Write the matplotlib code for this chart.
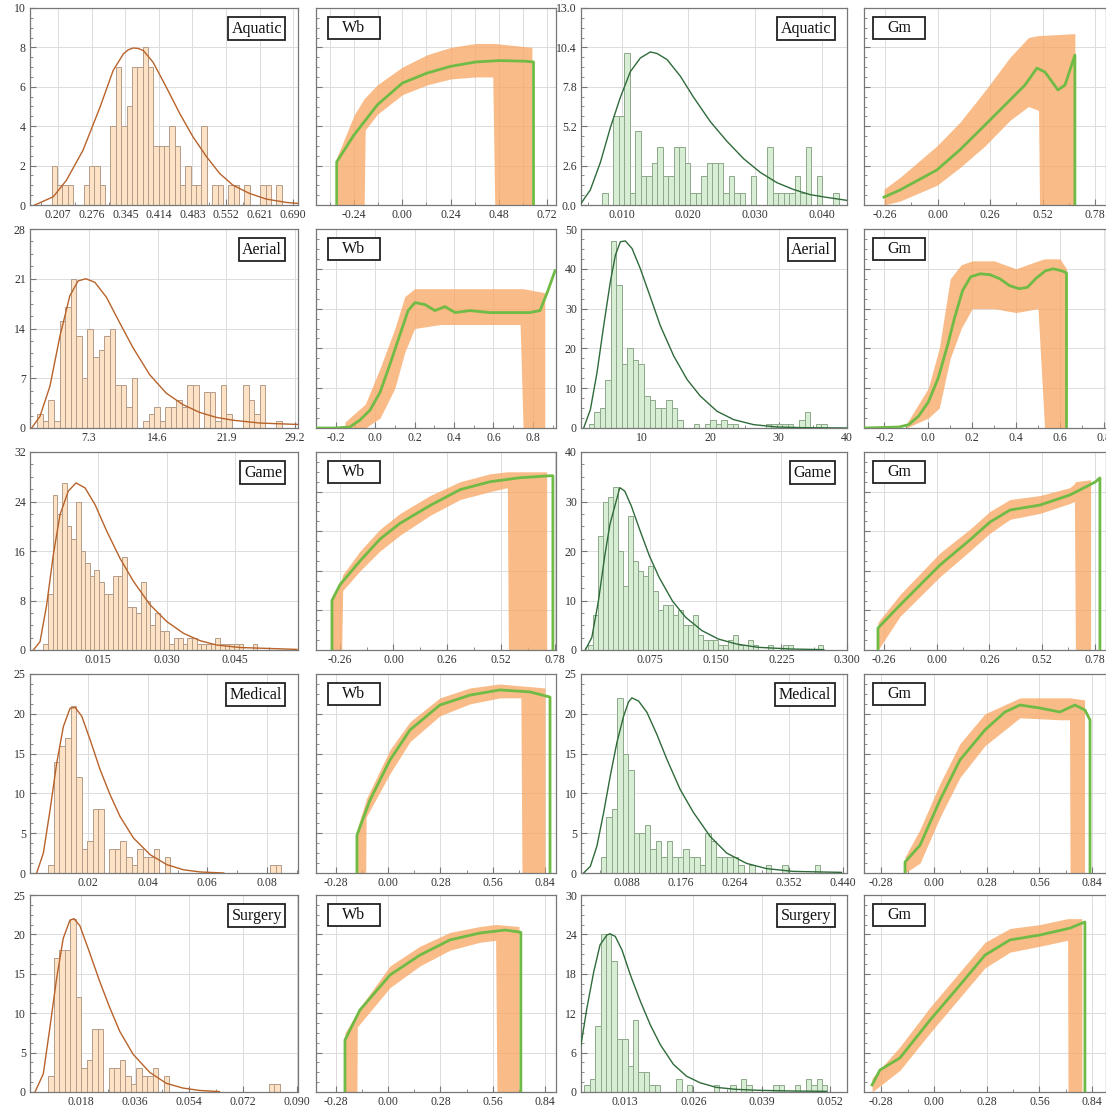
import matplotlib
import numpy as np

matplotlib.use("Agg")
import matplotlib.pyplot as plt
from matplotlib.patches import Rectangle
from matplotlib.ticker import AutoMinorLocator

FIG_PX = 1106
SERIF = ["Liberation Serif", "DejaVu Serif"]

# pixel frames of the 5 x 4 panel grid (left, right) / (top, bottom)
COL_PX = [(30, 298), (316, 556), (581, 847), (864, 1106)]
ROW_PX = [(8, 205), (229, 428), (452, 650), (674, 873), (895, 1092)]
DOMAINS = ["Aquatic", "Aerial", "Game", "Medical", "Surgery"]

# ---------------- column 1: orange histograms + fitted density ----------------
AQ1_START, AQ1_WIDTH = 0.1935, 0.011
AQ1_COUNTS = [2, 1, 1, 1, 0, 0, 1, 2, 2, 1, 0, 4, 7, 4, 5, 7, 7, 8, 7, 3, 3, 3, 4, 3, 1, 2, 1, 1,
              4, 0, 1, 1, 0, 1, 1, 0, 1, 0, 0, 1, 1, 0, 1]
AQ1_FIT_X = [0.159, 0.197, 0.224, 0.258, 0.293, 0.320, 0.341, 0.351, 0.361, 0.371, 0.382, 0.402,
             0.429, 0.457, 0.484, 0.512, 0.539, 0.566, 0.600, 0.635, 0.676, 0.700]
AQ1_FIT_Y = [0.0, 0.42, 1.26, 2.78, 4.97, 6.83, 7.67, 7.88, 7.97, 7.95, 7.84, 7.25, 5.99, 4.64,
             3.46, 2.45, 1.60, 1.01, 0.59, 0.30, 0.13, 0.08]

AE1_START, AE1_WIDTH = 1.84, 0.59
AE1_COUNTS = [2, 1, 4, 1, 15, 17, 21, 13, 7, 14, 10, 11, 13, 14, 6, 6, 3, 7, 0, 1, 2, 3, 1, 3, 3, 4,
              3, 6, 6, 0, 5, 5, 1, 6, 2, 0, 0, 6, 4, 2, 6, 0, 0, 1]
AE1_FIT_X = [1.24, 2.12, 3.18, 4.23, 5.29, 6.17, 6.99, 7.94, 9.17, 10.58, 11.99, 13.76, 15.52,
             17.28, 19.05, 20.81, 22.57, 25.40, 29.45]
AE1_FIT_Y = [0.0, 1.65, 5.9, 12.9, 18.6, 20.7, 21.0, 20.5, 18.4, 14.8, 11.3, 7.5, 4.9, 3.3, 2.2,
             1.5, 1.1, 0.7, 0.5]

GA1_START, GA1_WIDTH = 0.00293, 0.00102
GA1_COUNTS = [1, 9, 25, 22, 27, 20, 18, 24, 16, 14, 12, 13, 11, 9, 9, 12, 12, 15, 7, 7, 6, 11, 8, 4,
              6, 3, 3, 1, 2, 2, 1, 2, 2, 1, 1, 1, 1, 2, 1, 1, 1, 1, 1, 0, 0, 1]
GA1_FIT_X = [0.00073, 0.0022, 0.00366, 0.00512, 0.00659, 0.00842, 0.0101, 0.01208, 0.01427,
             0.01684, 0.01976, 0.02269, 0.02635, 0.03001, 0.03367, 0.03733, 0.04099, 0.04612, 0.05856]
GA1_FIT_Y = [0.0, 1.35, 7.3, 15.4, 21.9, 25.7, 27.0, 26.2, 23.5, 19.2, 14.8, 11.1, 7.3, 4.6, 2.7,
             1.5, 0.8, 0.4, 0.1]

ME1_START, ME1_WIDTH = 0.00666, 0.00186
ME1_COUNTS = [1, 14, 16, 17, 21, 12, 3, 4, 8, 8, 0, 3, 3, 4, 2, 1, 3, 2, 2, 3, 0, 2, 0, 0, 0, 0, 0,
              0, 0, 0, 0, 0, 0, 0, 0, 0, 0, 0, 0, 0, 1, 1]
ME1_FIT_X = [0.00274, 0.00498, 0.00722, 0.00946, 0.0117, 0.01394, 0.01562, 0.01786, 0.0207, 0.0240,
             0.0274, 0.0307, 0.0352, 0.0408, 0.0464, 0.0520, 0.0576, 0.0655]
ME1_FIT_Y = [0.0, 2.5, 7.9, 13.8, 18.4, 20.7, 20.8, 19.7, 16.7, 13.0, 9.8, 7.1, 4.4, 2.3, 1.05, 0.4,
             0.13, 0.0]

SU1_START, SU1_WIDTH = 0.0071, 0.00184
SU1_COUNTS = [2, 17, 18, 18, 22, 12, 3, 4, 8, 8, 0, 3, 3, 4, 2, 1, 3, 2, 2, 3, 0, 2, 0, 0, 0, 0, 0,
              0, 0, 0, 0, 0, 0, 0, 0, 0, 0, 0, 0, 0, 1, 1]
SU1_FIT_X = [0.00267, 0.00544, 0.00766, 0.00988, 0.0121, 0.01432, 0.01565, 0.01765, 0.02043,
             0.02431, 0.02764, 0.03097, 0.03541, 0.04096, 0.04651, 0.05206, 0.05761, 0.06427]
SU1_FIT_Y = [0.0, 2.3, 8.2, 14.4, 19.5, 21.8, 22.0, 21.1, 18.2, 14.0, 10.7, 7.7, 4.8, 2.5, 1.1, 0.5,
             0.2, 0.05]

# ---------------- column 3: green histograms + fitted density ----------------
AQ3_START, AQ3_WIDTH = 0.00705, 0.000825
AQ3_COUNTS = [0.8, 0, 5.9, 5.9, 10.0, 0.8, 4.9, 1.9, 1.9, 2.8, 3.8, 1.9, 1.9, 3.8, 3.8, 2.8, 0.8,
              0.8, 1.9, 2.8, 2.8, 2.8, 0.8, 1.9, 0.8, 0.8, 0, 1.9, 0, 0, 3.8, 0.8, 0.8, 0.8, 0.8,
              1.9, 0.8, 3.8, 0, 1.9, 0, 0, 0.8]
AQ3_FIT_X = [0.0039, 0.0053, 0.0068, 0.0083, 0.0098, 0.0113, 0.0128, 0.0143, 0.0153, 0.0168,
             0.0188, 0.0208, 0.0233, 0.0258, 0.0283, 0.0308, 0.0333, 0.0358, 0.0383, 0.0408, 0.0439]
AQ3_FIT_Y = [0.1, 1.0, 2.8, 5.1, 7.1, 8.8, 9.7, 10.1, 10.0, 9.6, 8.5, 7.1, 5.5, 4.2, 3.05, 2.15,
             1.47, 1.02, 0.68, 0.5, 0.3]

AE3_START, AE3_WIDTH = 2.19, 0.81
AE3_COUNTS = [1, 4, 5, 12, 47, 36, 16, 20, 17, 16, 8, 7, 5, 5, 7, 5, 2, 0, 0, 1, 0, 1, 2, 1, 2, 1,
              1, 0, 0, 0, 0, 0, 1, 1, 1, 1, 1, 0, 2, 4, 0, 1, 1]
AE3_FIT_X = [1.46, 2.44, 3.41, 4.39, 5.36, 6.10, 6.83, 7.56, 8.54, 9.76, 11.22, 12.68, 14.64, 16.59,
             18.54, 20.98, 23.42, 26.35, 29.77, 33.67, 40.0]
AE3_FIT_Y = [0.0, 4.6, 13.9, 25.7, 36.7, 43.4, 46.8, 47.0, 45.1, 40.0, 32.9, 25.7, 18.1, 12.2, 8.0,
             4.2, 2.1, 0.84, 0.25, 0.08, 0.0]

GA3_START, GA3_WIDTH = 0.0035, 0.00572
GA3_COUNTS = [1, 7, 23, 30, 31, 33, 20, 13, 27, 18, 16, 15, 17, 12, 8, 9, 9, 7, 8, 5, 5, 7, 3, 2, 2,
              2, 1, 1, 2, 3, 1, 1, 2, 1, 0, 0, 1, 0, 0, 1, 1, 0, 0, 0, 0, 0, 1]
GA3_FIT_X = [0.0009, 0.0084, 0.0159, 0.0234, 0.0291, 0.0347, 0.0404, 0.046, 0.0535, 0.0629, 0.0742,
             0.0855, 0.1005, 0.1156, 0.1344, 0.1532, 0.174, 0.1983, 0.2359, 0.2735]
GA3_FIT_Y = [0.0, 2.55, 9.9, 19.3, 25.4, 29.1, 32.8, 32.1, 29.1, 24.4, 19.0, 14.6, 9.9, 6.6, 3.9,
             2.2, 1.2, 0.54, 0.2, 0.07]

ME3_START, ME3_WIDTH = 0.0462, 0.00894
ME3_COUNTS = [2, 7, 8, 22, 15, 13, 5, 5, 6, 3, 4, 2, 4, 2, 2, 3, 2, 2, 1, 5, 4, 2, 2, 2, 2, 1, 0, 1,
              0, 0, 1, 0, 0, 1, 0, 0, 0, 0, 0, 1]
ME3_FIT_X = [0.0180, 0.0289, 0.0397, 0.0506, 0.0614, 0.0722, 0.0831, 0.0912, 0.0966, 0.1075, 0.1210,
             0.1373, 0.1535, 0.1752, 0.1969, 0.2240, 0.2511, 0.2836, 0.3161, 0.3595, 0.4381]
ME3_FIT_Y = [0.0, 0.84, 3.4, 7.6, 12.2, 16.4, 19.7, 21.5, 22.0, 21.6, 20.2, 17.4, 14.3, 10.5, 7.6,
             4.6, 2.5, 1.2, 0.55, 0.2, 0.08]

SU3_START, SU3_WIDTH = 0.0052, 0.00103
SU3_COUNTS = [1, 2, 10, 24, 24, 20, 8, 8, 4, 11, 3, 3, 1, 1, 0, 0, 0, 2, 0, 1, 0, 0, 0, 0, 1, 0, 0,
              1, 0, 2, 1, 0, 0, 0, 0, 1, 1, 0, 0, 1, 0, 2, 1, 2, 1]
SU3_FIT_X = [0.00457, 0.0057, 0.0070, 0.0082, 0.0095, 0.0101, 0.0111, 0.0124, 0.0140, 0.0159,
             0.0178, 0.0197, 0.0222, 0.0247, 0.0273, 0.0304, 0.0342, 0.0387, 0.0450, 0.0514]
SU3_FIT_Y = [7.2, 12.8, 18.3, 22.4, 23.9, 24.1, 23.7, 21.6, 17.8, 13.8, 10.2, 7.2, 4.2, 2.4, 1.4,
             0.7, 0.4, 0.25, 0.15, 0.1]

# ---------------- columns 2 and 4: Wb / Gm noisy bands (y as fraction of frame) ----------------
AQ_WB_X = [-0.327, -0.327, -0.241, -0.125, 0.0, 0.124, 0.241, 0.365, 0.48, 0.612, 0.653, 0.653]
AQ_WB_Y = [0.0, 0.219, 0.355, 0.508, 0.619, 0.670, 0.704, 0.726, 0.733, 0.730, 0.726, 0.0]
AQ_WB_BAND_X = [-0.327, -0.24, -0.19, -0.185, -0.125, 0.0, 0.124, 0.241, 0.365, 0.45, 0.46, 0.645]
AQ_WB_BAND_LO = [0.0, 0.0, 0.0, 0.38, 0.46, 0.56, 0.61, 0.64, 0.65, 0.65, 0.0, 0.0]
AQ_WB_BAND_HI = [0.24, 0.457, 0.54, 0.545, 0.61, 0.70, 0.763, 0.80, 0.82, 0.82, 0.82, 0.80]

AE_WB_X = [-0.30, -0.204, -0.128, -0.077, -0.026, 0.025, 0.075, 0.126, 0.167, 0.202, 0.253, 0.303,
           0.354, 0.405, 0.481, 0.582, 0.684, 0.785, 0.836, 0.876, 0.912]
AE_WB_Y = [0.0, 0.0, 0.005, 0.04, 0.09, 0.18, 0.32, 0.47, 0.59, 0.63, 0.62, 0.59, 0.61, 0.58, 0.59,
           0.58, 0.58, 0.58, 0.59, 0.69, 0.79]
AE_WB_BAND_X = [-0.153, -0.05, 0.025, 0.1, 0.15, 0.2, 0.33, 0.53, 0.735, 0.75, 0.86]
AE_WB_BAND_LO = [0.0, 0.0, 0.05, 0.2, 0.38, 0.5, 0.52, 0.52, 0.52, 0.0, 0.0]
AE_WB_BAND_HI = [0.03, 0.12, 0.3, 0.5, 0.66, 0.7, 0.7, 0.7, 0.7, 0.7, 0.68]

GA_WB_X = [-0.297, -0.297, -0.258, -0.161, -0.065, 0.032, 0.177, 0.322, 0.467, 0.611, 0.756, 0.77,
           0.77]
GA_WB_Y = [0.0, 0.25, 0.33, 0.45, 0.56, 0.64, 0.73, 0.81, 0.85, 0.87, 0.88, 0.88, 0.0]
GA_WB_BAND_X = [-0.297, -0.25, -0.245, -0.161, -0.065, 0.032, 0.177, 0.322, 0.467, 0.55, 0.555, 0.74]
GA_WB_BAND_LO = [0.0, 0.0, 0.30, 0.40, 0.50, 0.58, 0.68, 0.76, 0.80, 0.82, 0.0, 0.0]
GA_WB_BAND_HI = [0.27, 0.36, 0.38, 0.50, 0.61, 0.69, 0.78, 0.85, 0.89, 0.90, 0.90, 0.90]

ME_WB_X = [-0.167, -0.167, -0.097, 0.010, 0.117, 0.277, 0.438, 0.598, 0.759, 0.866, 0.866]
ME_WB_Y = [0.0, 0.19, 0.367, 0.568, 0.719, 0.844, 0.894, 0.92, 0.91, 0.884, 0.0]
ME_WB_BAND_X = [-0.167, -0.12, -0.118, 0.010, 0.117, 0.277, 0.438, 0.598, 0.71, 0.716, 0.839]
ME_WB_BAND_LO = [0.0, 0.0, 0.28, 0.50, 0.66, 0.79, 0.85, 0.88, 0.88, 0.0, 0.0]
ME_WB_BAND_HI = [0.22, 0.36, 0.37, 0.62, 0.76, 0.88, 0.93, 0.95, 0.94, 0.94, 0.93]

SU_WB_X = [-0.231, -0.231, -0.151, 0.010, 0.170, 0.331, 0.491, 0.625, 0.705, 0.71, 0.71]
SU_WB_Y = [0.0, 0.264, 0.416, 0.594, 0.695, 0.772, 0.807, 0.822, 0.812, 0.81, 0.0]
SU_WB_BAND_X = [-0.231, -0.167, -0.165, 0.010, 0.170, 0.331, 0.491, 0.575, 0.582, 0.70]
SU_WB_BAND_LO = [0.0, 0.0, 0.33, 0.53, 0.64, 0.72, 0.76, 0.77, 0.0, 0.0]
SU_WB_BAND_HI = [0.30, 0.40, 0.41, 0.64, 0.74, 0.81, 0.84, 0.85, 0.85, 0.84]

AQ_GM_X = [-0.265, -0.186, -0.003, 0.111, 0.235, 0.359, 0.433, 0.492, 0.532, 0.596, 0.631, 0.68,
           0.68]
AQ_GM_Y = [0.04, 0.076, 0.178, 0.28, 0.406, 0.533, 0.609, 0.695, 0.675, 0.584, 0.609, 0.761, 0.0]
AQ_GM_BAND_X = [-0.265, -0.186, -0.003, 0.111, 0.235, 0.359, 0.45, 0.50, 0.505, 0.68]
AQ_GM_BAND_LO = [0.0, 0.02, 0.1, 0.19, 0.3, 0.43, 0.5, 0.48, 0.0, 0.0]
AQ_GM_BAND_HI = [0.08, 0.14, 0.3, 0.42, 0.58, 0.75, 0.85, 0.86, 0.86, 0.87]

AE_GM_X = [-0.293, -0.133, -0.089, -0.044, 0.0, 0.045, 0.089, 0.119, 0.156, 0.193, 0.237, 0.282,
           0.326, 0.371, 0.415, 0.452, 0.489, 0.534, 0.57, 0.608, 0.63, 0.63]
AE_GM_Y = [0.0, 0.005, 0.017, 0.06, 0.13, 0.25, 0.42, 0.55, 0.69, 0.76, 0.775, 0.77, 0.75, 0.715,
           0.70, 0.707, 0.75, 0.79, 0.80, 0.79, 0.78, 0.0]
AE_GM_BAND_X = [-0.1, 0.0, 0.05, 0.1, 0.15, 0.2, 0.3, 0.4, 0.5, 0.53, 0.6, 0.63]
AE_GM_BAND_LO = [0.0, 0.05, 0.1, 0.35, 0.5, 0.6, 0.6, 0.58, 0.6, 0.0, 0.0, 0.0]
AE_GM_BAND_HI = [0.02, 0.2, 0.4, 0.75, 0.82, 0.84, 0.84, 0.8, 0.84, 0.85, 0.85, 0.8]

GA_GM_X = [-0.29, -0.29, -0.181, 0.016, 0.164, 0.263, 0.362, 0.510, 0.658, 0.782, 0.806, 0.806]
GA_GM_Y = [0.0, 0.111, 0.227, 0.429, 0.556, 0.646, 0.707, 0.732, 0.783, 0.848, 0.869, 0.0]
GA_GM_BAND_X = [-0.29, -0.181, 0.016, 0.164, 0.263, 0.362, 0.51, 0.658, 0.68, 0.685, 0.76]
GA_GM_BAND_LO = [0.0, 0.17, 0.37, 0.5, 0.59, 0.66, 0.69, 0.74, 0.75, 0.0, 0.0]
GA_GM_BAND_HI = [0.14, 0.28, 0.49, 0.61, 0.7, 0.76, 0.78, 0.82, 0.84, 0.85, 0.86]

ME_GM_X = [-0.154, -0.154, -0.074, 0.032, 0.138, 0.271, 0.377, 0.457, 0.563, 0.669, 0.749, 0.802,
           0.829, 0.829]
ME_GM_Y = [0.0, 0.055, 0.14, 0.367, 0.568, 0.719, 0.809, 0.844, 0.829, 0.809, 0.844, 0.819, 0.769,
           0.0]
ME_GM_BAND_X = [-0.154, -0.074, 0.032, 0.138, 0.271, 0.457, 0.669, 0.72, 0.723, 0.80]
ME_GM_BAND_LO = [0.0, 0.05, 0.28, 0.48, 0.64, 0.78, 0.77, 0.77, 0.0, 0.0]
ME_GM_BAND_HI = [0.08, 0.22, 0.45, 0.65, 0.8, 0.88, 0.88, 0.88, 0.88, 0.87]

SU_GM_X = [-0.329, -0.287, -0.181, -0.021, 0.138, 0.271, 0.404, 0.563, 0.723, 0.802, 0.802]
SU_GM_Y = [0.036, 0.112, 0.173, 0.365, 0.543, 0.695, 0.772, 0.797, 0.832, 0.863, 0.0]
SU_GM_BAND_X = [-0.329, -0.181, -0.021, 0.138, 0.271, 0.404, 0.563, 0.71, 0.712, 0.786]
SU_GM_BAND_LO = [0.0, 0.11, 0.3, 0.48, 0.63, 0.71, 0.74, 0.77, 0.0, 0.0]
SU_GM_BAND_HI = [0.07, 0.23, 0.43, 0.61, 0.76, 0.83, 0.85, 0.88, 0.88, 0.88]

# axis extents and tick labels
HIST1_XLIM = [(0.149, 0.700), (1.06, 29.5), (0.0, 0.0588), (0.0005, 0.0904), (0.001, 0.0905)]
HIST1_XTICKS = [["0.207", "0.276", "0.345", "0.414", "0.483", "0.552", "0.621", "0.690"],
                ["7.3", "14.6", "21.9", "29.2"],
                ["0.015", "0.030", "0.045"],
                ["0.02", "0.04", "0.06", "0.08"],
                ["0.018", "0.036", "0.054", "0.072", "0.090"]]
HIST1_YTICKS = [["0", "2", "4", "6", "8", "10"], ["0", "7", "14", "21", "28"],
                ["0", "8", "16", "24", "32"], ["0", "5", "10", "15", "20", "25"],
                ["0", "5", "10", "15", "20", "25"]]

HIST3_XLIM = [(0.0039, 0.0438), (1.07, 40.0), (-0.004, 0.300), (0.0137, 0.447), (0.00457, 0.0553)]
HIST3_XTICKS = [["0.010", "0.020", "0.030", "0.040"], ["10", "20", "30", "40"],
                ["0.075", "0.150", "0.225", "0.300"],
                ["0.088", "0.176", "0.264", "0.352", "0.440"],
                ["0.013", "0.026", "0.039", "0.052"]]
HIST3_YTICKS = [["0.0", "2.6", "5.2", "7.8", "10.4", "13.0"], ["0", "10", "20", "30", "40", "50"],
                ["0", "10", "20", "30", "40"], ["0", "5", "10", "15", "20", "25"],
                ["0", "6", "12", "18", "24", "30"]]

WB_XLIM = [(-0.43, 0.765), (-0.30, 0.917), (-0.374, 0.785), (-0.386, 0.898), (-0.386, 0.898)]
WB_XTICKS = [["-0.24", "0.00", "0.24", "0.48", "0.72"],
             ["-0.2", "0.0", "0.2", "0.4", "0.6", "0.8"],
             ["-0.26", "0.00", "0.26", "0.52", "0.78"],
             ["-0.28", "0.00", "0.28", "0.56", "0.84"],
             ["-0.28", "0.00", "0.28", "0.56", "0.84"]]
GM_XLIM = [(-0.364, 0.834), (-0.293, 0.81), (-0.359, 0.836), (-0.372, 0.914), (-0.372, 0.914)]
GM_XTICKS = [["-0.26", "0.00", "0.26", "0.52", "0.78"],
             ["-0.2", "0.0", "0.2", "0.4", "0.6", "0.8"],
             ["-0.26", "0.00", "0.26", "0.52", "0.78"],
             ["-0.28", "0.00", "0.28", "0.56", "0.84"],
             ["-0.28", "0.00", "0.28", "0.56", "0.84"]]

HIST1 = [(AQ1_START, AQ1_WIDTH, AQ1_COUNTS, AQ1_FIT_X, AQ1_FIT_Y),
         (AE1_START, AE1_WIDTH, AE1_COUNTS, AE1_FIT_X, AE1_FIT_Y),
         (GA1_START, GA1_WIDTH, GA1_COUNTS, GA1_FIT_X, GA1_FIT_Y),
         (ME1_START, ME1_WIDTH, ME1_COUNTS, ME1_FIT_X, ME1_FIT_Y),
         (SU1_START, SU1_WIDTH, SU1_COUNTS, SU1_FIT_X, SU1_FIT_Y)]
HIST3 = [(AQ3_START, AQ3_WIDTH, AQ3_COUNTS, AQ3_FIT_X, AQ3_FIT_Y),
         (AE3_START, AE3_WIDTH, AE3_COUNTS, AE3_FIT_X, AE3_FIT_Y),
         (GA3_START, GA3_WIDTH, GA3_COUNTS, GA3_FIT_X, GA3_FIT_Y),
         (ME3_START, ME3_WIDTH, ME3_COUNTS, ME3_FIT_X, ME3_FIT_Y),
         (SU3_START, SU3_WIDTH, SU3_COUNTS, SU3_FIT_X, SU3_FIT_Y)]
WB = [(AQ_WB_X, AQ_WB_Y, AQ_WB_BAND_X, AQ_WB_BAND_LO, AQ_WB_BAND_HI),
      (AE_WB_X, AE_WB_Y, AE_WB_BAND_X, AE_WB_BAND_LO, AE_WB_BAND_HI),
      (GA_WB_X, GA_WB_Y, GA_WB_BAND_X, GA_WB_BAND_LO, GA_WB_BAND_HI),
      (ME_WB_X, ME_WB_Y, ME_WB_BAND_X, ME_WB_BAND_LO, ME_WB_BAND_HI),
      (SU_WB_X, SU_WB_Y, SU_WB_BAND_X, SU_WB_BAND_LO, SU_WB_BAND_HI)]
GM = [(AQ_GM_X, AQ_GM_Y, AQ_GM_BAND_X, AQ_GM_BAND_LO, AQ_GM_BAND_HI),
      (AE_GM_X, AE_GM_Y, AE_GM_BAND_X, AE_GM_BAND_LO, AE_GM_BAND_HI),
      (GA_GM_X, GA_GM_Y, GA_GM_BAND_X, GA_GM_BAND_LO, GA_GM_BAND_HI),
      (ME_GM_X, ME_GM_Y, ME_GM_BAND_X, ME_GM_BAND_LO, ME_GM_BAND_HI),
      (SU_GM_X, SU_GM_Y, SU_GM_BAND_X, SU_GM_BAND_LO, SU_GM_BAND_HI)]

SPINE = "#777777"
GRID = "#dcdcdc"
TICK_TEXT = "#333333"
ORANGE_FACE, ORANGE_EDGE, ORANGE_LINE = "#fde2c6", "#b39d8a", "#b8622a"
GREEN_FACE, GREEN_EDGE, GREEN_LINE = "#d8eed4", "#8ea88b", "#2f6b3a"
BAND = "#f8a866"
BAND_LINE = "#6fbb45"

fig = plt.figure(figsize=(FIG_PX / 100, FIG_PX / 100), dpi=100)


def frame_axes(col, row):
    left, right = COL_PX[col]
    top, bottom = ROW_PX[row]
    return fig.add_axes([left / FIG_PX, 1 - bottom / FIG_PX,
                         (right - left) / FIG_PX, (bottom - top) / FIG_PX])


def style_axes(ax, xlabels, ylabels=None, minor_grid=False):
    ax.set_xticks([float(v) for v in xlabels], xlabels)
    if ylabels is None:
        ax.set_ylim(0, 1)
        ax.set_yticks([0.2, 0.4, 0.6, 0.8], [])
    else:
        ax.set_yticks([float(v) for v in ylabels], ylabels)
        ax.set_ylim(0, float(ylabels[-1]))
    ax.xaxis.set_minor_locator(AutoMinorLocator(2))
    ax.yaxis.set_minor_locator(AutoMinorLocator(4))
    ax.grid(True, which="major", color=GRID, linewidth=0.7)
    if minor_grid:
        ax.grid(True, which="minor", axis="x", color=GRID, linewidth=0.7)
    ax.set_axisbelow(True)
    for spine in ax.spines.values():
        spine.set_color(SPINE)
        spine.set_linewidth(0.9)
    ax.tick_params(which="both", direction="in", colors=SPINE, labelcolor=TICK_TEXT,
                   labelsize=8.5, top=False, right=False, pad=3)
    ax.tick_params(which="major", length=4)
    ax.tick_params(which="minor", length=2)
    for label in ax.get_xticklabels() + ax.get_yticklabels():
        label.set_fontfamily(SERIF)


def corner_label(ax, text):
    ax.text(0.94, 0.935, text, transform=ax.transAxes, ha="right", va="top",
            fontfamily=SERIF, fontsize=11.5, color="#111111", zorder=6,
            bbox=dict(boxstyle="square,pad=0.22", fc="white", ec="#222222", lw=1.3))


def box_label(ax, text, width_px=52, height_px=22, inset_px=12):
    bbox = ax.get_position()
    w_ax = bbox.width * FIG_PX
    h_ax = bbox.height * FIG_PX
    x0 = inset_px / w_ax
    y1 = 1 - 9 / h_ax
    w = width_px / w_ax
    h = height_px / h_ax
    ax.add_patch(Rectangle((x0, y1 - h), w, h, transform=ax.transAxes, fc="white",
                           ec="#222222", lw=1.3, zorder=6))
    ax.text(x0 + w / 2, y1 - h / 2, text, transform=ax.transAxes, ha="center", va="center",
            fontfamily=SERIF, fontsize=11.5, color="#111111", zorder=7)


def draw_hist(ax, spec, face, edge, line):
    start, width, counts, fit_x, fit_y = spec
    lefts = start + width * np.arange(len(counts))
    ax.bar(lefts, counts, width=width, align="edge", color=face, edgecolor=edge,
           linewidth=0.7, zorder=2)
    ax.plot(fit_x, fit_y, color=line, linewidth=1.0, zorder=3)


def draw_band(ax, spec):
    line_x, line_y, band_x, band_lo, band_hi = spec
    ax.fill_between(band_x, band_lo, band_hi, color=BAND, alpha=0.78, linewidth=0, zorder=2)
    ax.plot(line_x, line_y, color=BAND_LINE, linewidth=2.0, zorder=3)


for row, domain in enumerate(DOMAINS):
    ax = frame_axes(0, row)
    draw_hist(ax, HIST1[row], ORANGE_FACE, ORANGE_EDGE, ORANGE_LINE)
    style_axes(ax, HIST1_XTICKS[row], HIST1_YTICKS[row])
    ax.set_xlim(*HIST1_XLIM[row])
    corner_label(ax, domain)

    ax = frame_axes(1, row)
    draw_band(ax, WB[row])
    style_axes(ax, WB_XTICKS[row], minor_grid=(row == 0))
    ax.set_xlim(*WB_XLIM[row])
    box_label(ax, "Wb")

    ax = frame_axes(2, row)
    draw_hist(ax, HIST3[row], GREEN_FACE, GREEN_EDGE, GREEN_LINE)
    style_axes(ax, HIST3_XTICKS[row], HIST3_YTICKS[row])
    ax.set_xlim(*HIST3_XLIM[row])
    corner_label(ax, domain)

    ax = frame_axes(3, row)
    draw_band(ax, GM[row])
    style_axes(ax, GM_XTICKS[row])
    ax.set_xlim(*GM_XLIM[row])
    box_label(ax, "Gm", inset_px=9)

fig.savefig("out.png", dpi=100)
plt.close(fig)
